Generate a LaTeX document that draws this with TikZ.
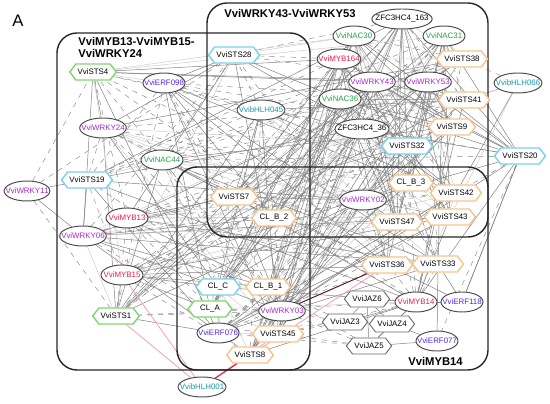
\documentclass[tikz,border=0pt]{standalone}
\usepackage{fontspec}
\setmainfont{Liberation Sans}
\usetikzlibrary{shapes.geometric,shapes.symbols,backgrounds}

\definecolor{stsorange}{RGB}{247,196,140}
\definecolor{stsblue}{RGB}{120,210,238}
\definecolor{stsgreen}{RGB}{128,214,112}
\definecolor{nacgreen}{RGB}{40,160,70}
\definecolor{wrkypink}{RGB}{170,40,200}
\definecolor{mybred}{RGB}{232,30,70}
\definecolor{erfblue}{RGB}{80,40,230}
\definecolor{bhlhteal}{RGB}{30,150,165}
\definecolor{tiepink}{RGB}{242,160,180}
\definecolor{tiered}{RGB}{205,45,80}

\tikzstyle{gene} = [shape=signal, signal to=west and east, signal pointer angle=105, draw=stsorange, line width=0.8pt, fill=white, minimum width=0.88cm, minimum height=0.32cm, inner xsep=1pt, inner ysep=1.5pt, font=\fontsize{4.5}{5}\selectfont]
\tikzstyle{jaz} = [gene, draw=black!60, line width=0.5pt]
\tikzstyle{tf} = [ellipse, draw=black!70, line width=0.55pt, fill=white, minimum width=0.84cm, minimum height=0.4cm, inner xsep=-3pt, inner ysep=1pt, font=\fontsize{4.5}{5}\selectfont]
\tikzstyle{module} = [draw=black!85, line width=0.8pt, rounded corners=0.4cm]
\tikzstyle{modlabel} = [font=\bfseries\fontsize{6.4}{6.8}\selectfont, align=left, inner sep=0pt]
\tikzstyle{tie} = [black!50, line width=0.28pt]
\tikzstyle{dashtie} = [black!45, dashed, line width=0.28pt]
\tikzstyle{faintie} = [black!20, line width=0.28pt]
\tikzstyle{pinktie} = [tiepink, line width=0.45pt]
\tikzstyle{redtie} = [tiered, line width=0.6pt]

\begin{document}
\begin{tikzpicture}[x=0.02cm,y=-0.02cm]
            \useasboundingbox (0,0) rectangle (550,404);
            %
            % We start by placing the stilbene synthase genes
            \node [gene, draw=stsgreen] (sts4) at (93,72) {VviSTS4};
            \node [gene, draw=stsblue] (sts19) at (87,180) {VviSTS19};
            \node [gene, draw=stsgreen] (sts1) at (116,316) {VviSTS1};
            \node [gene, draw=stsblue] (sts28) at (234,55) {VviSTS28};
            \node [gene] (sts38) at (462,59) {VviSTS38};
            \node [gene] (sts41) at (464,100) {VviSTS41};
            \node [gene] (sts9) at (452,127) {VviSTS9};
            \node [gene, draw=stsblue] (sts32) at (407,146) {VviSTS32};
            \node [gene, draw=stsblue] (sts20) at (520,156) {VviSTS20};
            \node [gene] (clb3) at (411,183) {CL\_B\_3};
            \node [gene] (sts42) at (456,193) {VviSTS42};
            \node [gene] (sts43) at (450,217) {VviSTS43};
            \node [gene] (sts47) at (397,222) {VviSTS47};
            \node [gene] (sts7) at (234,197) {VviSTS7};
            \node [gene] (clb2) at (274,218) {CL\_B\_2};
            \node [gene] (sts36) at (387,265) {VviSTS36};
            \node [gene] (sts33) at (438,264) {VviSTS33};
            \node [gene, draw=stsblue] (clc) at (218,287) {CL\_C};
            \node [gene] (clb1) at (268,287) {CL\_B\_1};
            \node [gene, draw=stsgreen] (cla) at (210,309) {CL\_A};
            \node [gene] (sts45) at (278,334) {VviSTS45};
            \node [gene] (sts8) at (250,355) {VviSTS8};
            % JAZ genes
            \node [jaz] (jaz6) at (367,299) {VviJAZ6};
            \node [jaz] (jaz3) at (345,322) {VviJAZ3};
            \node [jaz] (jaz4) at (392,324) {VviJAZ4};
            \node [jaz] (jaz5) at (369,346) {VviJAZ5};
            %
            % Then the transcription factors
            \node [tf, text=erfblue] (erf098) at (164,83) {VviERF098};
            \node [tf, text=wrkypink] (wrky24) at (103,128) {VviWRKY24};
            \node [tf, text=nacgreen] (nac44) at (162,160) {VviNAC44};
            \node [tf, text=wrkypink] (wrky11) at (27,191) {VviWRKY11};
            \node [tf, text=mybred] (myb13) at (127,218) {VviMYB13};
            \node [tf, text=wrkypink] (wrky06) at (83,236) {VviWRKY06};
            \node [tf, text=mybred] (myb15) at (122,275) {VviMYB15};
            \node [tf, text=bhlhteal] (bhlh045) at (261,110) {VvibHLH045};
            \node [tf] (zfc163) at (402,19) {ZFC3HC4\_163};
            \node [tf, text=nacgreen] (nac30) at (354,36) {VviNAC30};
            \node [tf, text=nacgreen] (nac31) at (444,36) {VviNAC31};
            \node [tf, text=mybred] (myb164) at (339,59) {VviMYB164};
            \node [tf, text=wrkypink] (wrky43) at (372,82) {VviWRKY43};
            \node [tf, text=wrkypink] (wrky53) at (428,82) {VviWRKY53};
            \node [tf, text=bhlhteal] (bhlh066) at (518,83) {VvibHLH066};
            \node [tf, text=nacgreen] (nac36) at (340,99) {VviNAC36};
            \node [tf] (zfc36) at (362,129) {ZFC3HC4\_36};
            \node [tf, text=wrkypink] (wrky02) at (363,200) {VviWRKY02};
            \node [tf, text=mybred] (myb14) at (416,302) {VviMYB14};
            \node [tf, text=erfblue] (erf118) at (462,302) {VviERF118};
            \node [tf, text=erfblue] (erf077) at (437,341) {VviERF077};
            \node [tf, text=wrkypink] (wrky03) at (282,311) {VviWRKY03};
            \node [tf, text=erfblue] (erf076) at (218,333) {VviERF076};
            \node [tf, text=bhlhteal] (bhlh001) at (202,387) {VvibHLH001};
            %
            % Module names
            \node [font=\fontsize{9.5}{10}\selectfont] (panel) at (18,21) {A};
            \node [modlabel, anchor=north west] (modleft) at (78,37) {VviMYB13-VviMYB15-\\VviWRKY24};
            \node [modlabel, anchor=west] (modtop) at (224,13) {VviWRKY43-VviWRKY53};
            \node [modlabel, anchor=east] (modlow) at (463,361) {VviMYB14};
            %
            \begin{pgfonlayer}{background}
            % Once the nodes are placed, the interactions go behind them
            \pgfmathsetseed{4711}
            \foreach \tf in {erf098,wrky24,nac44,myb13,wrky06,myb15,bhlh045,zfc163,nac30,nac31,myb164,wrky43,wrky53,nac36,zfc36,wrky02,wrky03,erf076,myb14}
              \foreach \gene in {sts4,sts19,sts1,sts28,sts38,sts41,sts9,sts32,clb3,sts42,sts43,sts47,sts7,clb2,sts36,sts33,clc,clb1,cla,sts45,sts8}{
                \pgfmathrandominteger{\pick}{0}{5}
                \ifcase\pick \draw [tie] (\tf) -- (\gene);
                \or \draw [tie] (\tf) -- (\gene);
                \or \draw [dashtie] (\tf) -- (\gene);
                \or \draw [faintie] (\tf) -- (\gene);
                \or \draw [dashtie] (\tf) -- (\gene);
                \fi
              }
            \foreach \tf in {nac30,nac31,myb164,wrky43,wrky53,nac36,zfc36,wrky02,zfc163,myb14,erf118,wrky03}
              \draw [tie] (sts20) -- (\tf);
            \foreach \tf in {bhlh045,nac44,erf077,erf076}
              \draw [dashtie] (sts20) -- (\tf);
            \foreach \gene in {sts4,sts28,sts1}
              \draw [dashtie] (wrky11) -- (\gene);
            \draw [tie] (wrky11) -- (sts19);
            \draw [tie] (wrky11) -- (wrky06);
            \draw [tiepink, dashed, line width=0.45pt] (bhlh066) -- (sts38);
            \draw [pinktie] (bhlh066) -- (sts41);
            \draw [tie] (bhlh066) -- (sts42);
            \draw [faintie] (bhlh066) -- (sts43);
            \draw [tiepink, dashed, line width=0.45pt] (sts19) -- (myb15);
            \foreach \gene in {sts1,myb15,sts45,sts36}
              \draw [pinktie] (bhlh001) -- (\gene);
            \draw [redtie] (bhlh001) -- (sts8);
            \draw [line width=0.5pt, draw=black!55!tiered] (sts36) -- (wrky03);
            \foreach \gene in {jaz6,jaz3,jaz4,jaz5,erf118}
              \draw [tie] (myb14) -- (\gene);
            \foreach \gene in {sts33,sts36,sts20}
              \draw [tie] (erf118) -- (\gene);
            \foreach \gene in {jaz4,jaz5,sts33}
              \draw [tie] (erf077) -- (\gene);
            \draw [tie] (jaz6) -- (jaz5);
            \draw [tie] (jaz3) -- (jaz4);
            \draw [tie] (jaz6) -- (jaz4);
            \draw [tie] (jaz3) -- (jaz6);
            \draw [tie] (jaz4) -- (jaz5);
            \foreach \gene in {wrky03,sts45,erf076,clb1}{
              \draw [dashtie] (jaz3) -- (\gene);
              \draw [dashtie] (jaz5) -- (\gene);
            }
            % The three modules
            \draw [module] (57,33) rectangle (310,370);
            \draw [module] (207,3) rectangle (488,237);
            \draw [module] (177,167) rectangle (488,370);
            \end{pgfonlayer}
            %
        \end{tikzpicture}
\end{document}
